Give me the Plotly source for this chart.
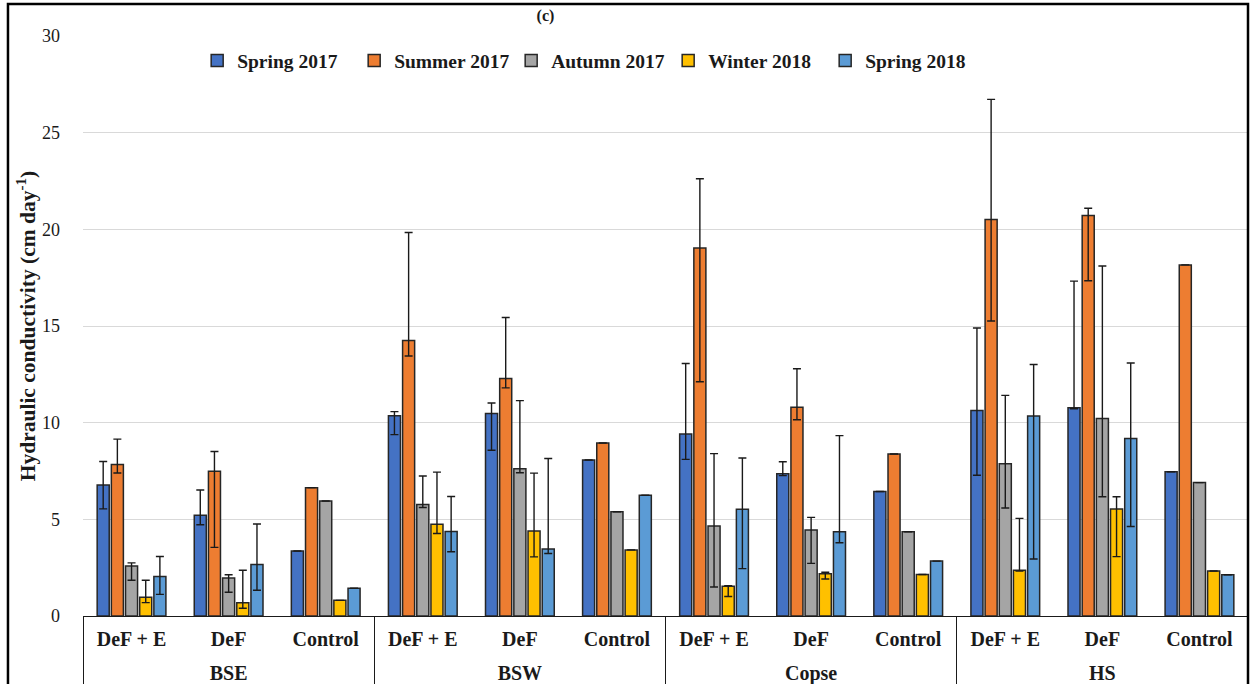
import plotly.graph_objects as go

sites = ["BSE"] * 3 + ["BSW"] * 3 + ["Copse"] * 3 + ["HS"] * 3
treatments = ["DeF + E", "DeF", "Control"] * 4

series_names = ["Spring 2017", "Summer 2017", "Autumn 2017", "Winter 2018", "Spring 2018"]
colors = ["#4472C4", "#ED7D31", "#A5A5A5", "#FFC000", "#5B9BD5"]

spring17 = [6.78, 5.21, 3.36, 10.36, 10.48, 8.07, 9.42, 7.36, 6.44, 10.63, 10.77, 7.46]
spring17_plus = [1.21, 1.31, None, 0.21, 0.54, None, 3.64, 0.62, None, 4.27, 6.55, None]
spring17_minus = [1.24, 0.49, None, 0.98, 1.91, None, 1.32, 0.10, None, 3.35, 0.05, None]

summer17 = [7.84, 7.49, 6.64, 14.25, 12.28, 8.95, 19.04, 10.80, 8.38, 20.51, 20.71, 18.16]
summer17_plus = [1.31, 1.02, None, 5.59, 3.16, None, 3.58, 1.99, None, 6.21, 0.38, None]
summer17_minus = [0.44, 3.94, None, 0.80, 0.48, None, 6.92, 0.65, None, 5.25, 3.37, None]

autumn17 = [2.58, 1.96, 5.95, 5.77, 7.62, 5.39, 4.66, 4.45, 4.36, 7.88, 10.22, 6.90]
autumn17_plus = [0.17, 0.17, None, 1.47, 3.52, None, 3.74, 0.65, None, 3.53, 7.88, None]
autumn17_minus = [0.73, 0.73, None, 0.16, 0.21, None, 3.16, 1.73, None, 2.29, 4.05, None]

winter18 = [0.97, 0.69, 0.81, 4.75, 4.40, 3.42, 1.54, 2.19, 2.15, 2.37, 5.53, 2.33]
winter18_plus = [0.88, 1.68, None, 2.69, 2.99, None, 0.03, 0.07, None, 2.68, 0.64, None]
winter18_minus = [0.28, 0.29, None, 0.48, 1.34, None, 0.53, 0.28, None, 0.05, 2.46, None]

spring18 = [2.04, 2.66, 1.44, 4.37, 3.47, 6.25, 5.52, 4.36, 2.84, 10.34, 9.18, 2.13]
spring18_plus = [1.04, 2.10, None, 1.81, 4.68, None, 2.65, 4.97, None, 2.67, 3.91, None]
spring18_minus = [0.92, 1.33, None, 1.05, 0.24, None, 3.07, 0.57, None, 7.39, 4.55, None]

values = [spring17, summer17, autumn17, winter18, spring18]
plus = [spring17_plus, summer17_plus, autumn17_plus, winter18_plus, spring18_plus]
minus = [spring17_minus, summer17_minus, autumn17_minus, winter18_minus, spring18_minus]

SERIF = "Liberation Serif"
INK = "#1a1a1a"

# first-level labels get a tiny blank second line so the site row sits lower
treat_labels = [t + "<br><sup><span style='font-size:4px'>\u00a0</span></sup>" for t in treatments]

fig = go.Figure()
for name, col, v, p, m in zip(series_names, colors, values, plus, minus):
    fig.add_trace(go.Bar(
        name=name,
        x=[sites, treat_labels],
        y=v,
        marker=dict(color=col, line=dict(color="#262626", width=1.5)),
        error_y=dict(type="data", symmetric=False, array=p, arrayminus=m,
                     color=INK, thickness=1.4, width=4),
    ))

fig.update_layout(
    width=1257, height=684,
    margin=dict(l=83, r=9, t=36, b=68, autoexpand=False),
    paper_bgcolor="white", plot_bgcolor="white",
    barmode="group", bargap=0.27, bargroupgap=0.15,
    font=dict(family=SERIF, color=INK),
    title=dict(text="<b>(c)</b>", x=0.397, xref="paper", xanchor="center",
               y=0.978, yref="container", yanchor="middle",
               font=dict(family=SERIF, size=16, color=INK)),
    legend=dict(orientation="h", x=0.098, xanchor="left", y=0.957, yanchor="middle",
                font=dict(family=SERIF, size=19.5, color=INK, weight="bold"),
                bgcolor="rgba(0,0,0,0)", traceorder="normal", itemwidth=30,
                entrywidth=112, entrywidthmode="pixels"),
    showlegend=True,
)
fig.update_yaxes(
    range=[0, 30], dtick=5, showgrid=True, gridcolor="#D9D9D9", gridwidth=1.3,
    showline=False, zeroline=False, ticks="", ticklabelstandoff=22, automargin=False,
    tickfont=dict(family=SERIF, size=18, color=INK),
    title=dict(text="<b>Hydraulic conductivity (cm day<sup>-1</sup>)</b>", standoff=0,
               font=dict(family=SERIF, size=21.5, color=INK)),
)
fig.update_xaxes(
    type="multicategory", showline=True, linecolor=INK, linewidth=1.3, automargin=False,
    showdividers=True, dividercolor=INK, dividerwidth=1.3,
    ticks="", ticklabelstandoff=5,
    tickfont=dict(family=SERIF, size=20, color=INK, weight="bold"),
    showgrid=False,
)
# outer chart border
fig.add_shape(type="rect", xref="paper", yref="paper",
              x0=-0.0644, x1=1.0, y0=-0.3, y1=1.055,
              line=dict(color="black", width=2.5), layer="above")

fig.write_html("out.html", config={"displayModeBar": False},
               post_script="document.body.style.margin='0';")
